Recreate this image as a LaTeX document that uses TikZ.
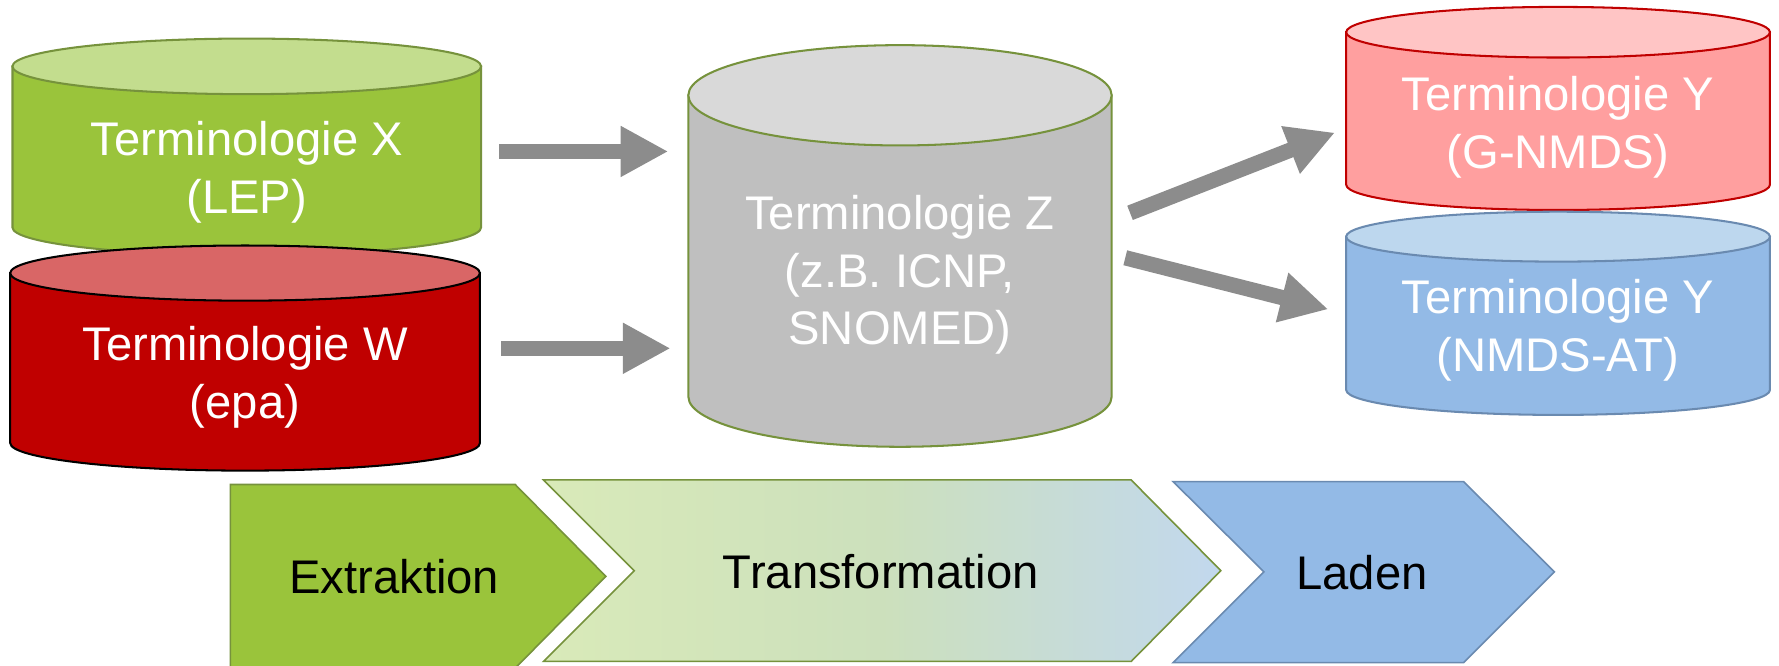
\documentclass[tikz,border=0pt]{standalone}
\usepackage{fontspec}
\setmainfont{Liberation Sans}
\usetikzlibrary{arrows.meta}
\definecolor{grnside}{HTML}{9AC43B}
\definecolor{grntop}{HTML}{C3DD8E}
\definecolor{grnline}{HTML}{76923C}
\definecolor{redside}{HTML}{C00000}
\definecolor{redtop}{HTML}{D96666}
\definecolor{grayside}{HTML}{BFBFBF}
\definecolor{graytop}{HTML}{D9D9D9}
\definecolor{pinkside}{HTML}{FF9F9F}
\definecolor{pinktop}{HTML}{FFC5C5}
\definecolor{blueside}{HTML}{93BAE6}
\definecolor{bluetop}{HTML}{BDD7EE}
\definecolor{blueline}{HTML}{6A8AB0}
\definecolor{arrowgray}{HTML}{8C8C8C}
\definecolor{trleft}{HTML}{D9EAB9}
\definecolor{trmid}{HTML}{CCE0BC}
\definecolor{trright}{HTML}{C2D8EE}
\tikzset{
  cyltext/.style={text=white, align=center, anchor=base, inner sep=0pt,
    font=\fontsize{20.8pt}{25.5pt}\selectfont},
  steptext/.style={text=black, anchor=base, inner sep=0pt,
    font=\fontsize{20.8pt}{25.5pt}\selectfont},
  blockarrow/.style={draw=arrowgray, line width=6.75pt,
    -{Triangle[length=21pt,width=21pt]}},
  cylline/.style={line width=0.9pt},
  chevline/.style={line width=0.7pt},
}
\begin{document}
\begin{tikzpicture}[x=0.5pt,y=-0.5pt]
\fill[white] (0,0) rectangle (1568,587);
\useasboundingbox (0,0) rectangle (1568,587);

% Terminologie X (green)
\filldraw[cylline, fill=grnside, draw=grnline]
  (11,58.5) -- (11,200.5) arc[start angle=180, end angle=0, x radius=206.5, y radius=24.5] -- (424,58.5) -- cycle;
\filldraw[cylline, fill=grntop, draw=grnline] (217.5,58.5) ellipse[x radius=206.5, y radius=24.5];
\node[cyltext] (X) at (217.5,188) {Terminologie X\\(LEP)};

% Terminologie W (red)
\filldraw[cylline, fill=redside, draw=black]
  (9,240.7) -- (9,390.5) arc[start angle=180, end angle=0, x radius=207, y radius=24.3] -- (423,240.7) -- cycle;
\filldraw[cylline, fill=redtop, draw=black] (216,240.7) ellipse[x radius=207, y radius=24.3];
\node[cyltext] (W) at (216,368.7) {Terminologie W\\(epa)};

% Terminologie Z (gray)
\filldraw[cylline, fill=grayside, draw=grnline]
  (606.7,84) -- (606.7,349.6) arc[start angle=180, end angle=0, x radius=186.55, y radius=44.2] -- (979.8,84) -- cycle;
\filldraw[cylline, fill=graytop, draw=grnline] (793.25,84) ellipse[x radius=186.55, y radius=44.2];
\node[cyltext] (Z) at (793.2,304) {Terminologie Z\\(z.B. ICNP,\\SNOMED)};

% Terminologie Y (G-NMDS)
\filldraw[cylline, fill=pinkside, draw=redside]
  (1186.5,28.4) -- (1186.5,162.8) arc[start angle=180, end angle=0, x radius=186.75, y radius=22.3] -- (1560,28.4) -- cycle;
\filldraw[cylline, fill=pinktop, draw=redside] (1373.25,28.4) ellipse[x radius=186.75, y radius=22.3];
\node[cyltext] (YG) at (1373.2,148.4) {Terminologie Y\\(G-NMDS)};

% Terminologie Y (NMDS-AT)
\filldraw[cylline, fill=blueside, draw=blueline]
  (1186.5,208.6) -- (1186.5,343.7) arc[start angle=180, end angle=0, x radius=186.75, y radius=22] -- (1560,208.6) -- cycle;
\filldraw[cylline, fill=bluetop, draw=blueline] (1373.25,208.6) ellipse[x radius=186.75, y radius=22];
\node[cyltext] (YN) at (1373.2,327.6) {Terminologie Y\\(NMDS-AT)};

% arrows
\coordinate (a1s) at (440,133.5);  \coordinate (a1e) at (589,133.5);
\coordinate (a2s) at (442,307);    \coordinate (a2e) at (591,307);
\coordinate (a3s) at (996,187.6);  \coordinate (a3e) at (1176.6,116.9);
\coordinate (a4s) at (991.8,227.2); \coordinate (a4e) at (1170.7,272.6);
\draw[blockarrow] (a1s) -- (a1e);
\draw[blockarrow] (a2s) -- (a2e);
\draw[blockarrow] (a3s) -- (a3e);
\draw[blockarrow] (a4s) -- (a4e);

% process chevrons
\filldraw[chevline, fill=grnside, draw=grnline]
  (203,427) -- (454,427) -- (534,508) -- (454,589) -- (203,589) -- cycle;
\node[steptext] (E) at (347.5,523) {Extraktion};
\filldraw[chevline, draw=grnline, left color=trleft, right color=trright, middle color=trmid]
  (479,423) -- (997,423) -- (1076,503) -- (997,583) -- (479,583) -- (559,503) -- cycle;
\node[steptext] (T) at (776.3,518.5) {Transformation};
\filldraw[chevline, fill=blueside, draw=blueline]
  (1034,424.5) -- (1290,424.5) -- (1370,504) -- (1290,584) -- (1034,584) -- (1114,504) -- cycle;
\node[steptext] (L) at (1200.5,520) {Laden};
\end{tikzpicture}
\end{document}
